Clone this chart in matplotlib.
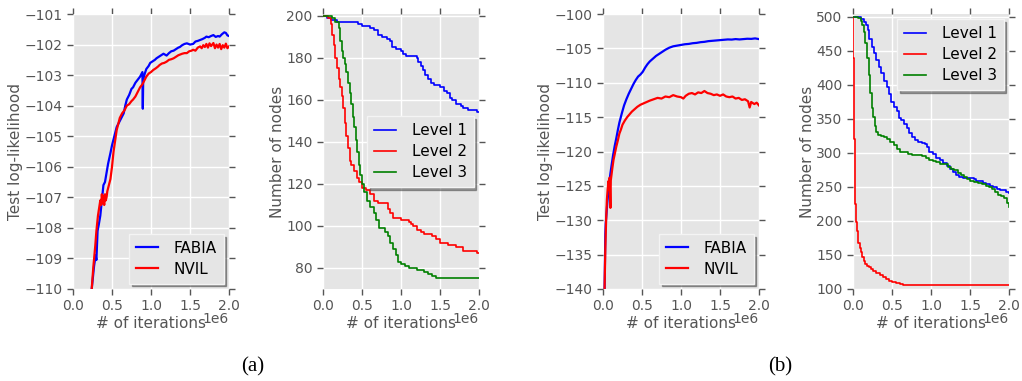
import matplotlib
matplotlib.use("Agg")
import matplotlib.pyplot as plt

# ---- data (x in units of 1e6 iterations) ----
fabia_a_x = [0.24, 0.26, 0.27, 0.29, 0.30, 0.315, 0.33, 0.35, 0.37, 0.39, 0.41, 0.43, 0.45, 0.48, 0.50,
             0.52, 0.54, 0.56, 0.59, 0.62, 0.65, 0.67, 0.69, 0.72, 0.75, 0.77, 0.80, 0.83, 0.86, 0.89,
             0.895, 0.90, 0.92, 0.94, 0.97, 0.99, 1.02, 1.05, 1.07, 1.10, 1.13, 1.16, 1.18, 1.20, 1.23,
             1.26, 1.29, 1.32, 1.35, 1.37, 1.40, 1.43, 1.46, 1.50, 1.54, 1.57, 1.60, 1.63, 1.66, 1.69,
             1.71, 1.74, 1.77, 1.80, 1.83, 1.86, 1.88, 1.91, 1.94, 1.96, 1.98, 2.00]
fabia_a_y = [-110.0, -109.5, -109.25, -108.9, -109.05, -108.1, -107.9, -107.6, -107.1, -106.6, -106.5, -106.2, -105.9, -105.55, -105.3,
             -105.1, -104.9, -104.7, -104.55, -104.4, -104.25, -104.0, -103.8, -103.65, -103.45, -103.4, -103.25, -103.15, -103.05, -102.9,
             -104.1, -103.15, -102.95, -102.8, -102.7, -102.6, -102.55, -102.5, -102.45, -102.4, -102.35, -102.3, -102.33, -102.36, -102.28,
             -102.22, -102.2, -102.15, -102.1, -102.08, -102.02, -101.98, -101.96, -102.0, -101.98, -101.9, -101.88, -101.85, -101.82, -101.78,
             -101.74, -101.76, -101.72, -101.69, -101.75, -101.72, -101.74, -101.66, -101.6, -101.62, -101.7, -101.72]

nvil_a_x = [0.24, 0.26, 0.285, 0.30, 0.32, 0.35, 0.36, 0.37, 0.38, 0.39, 0.40, 0.41, 0.42, 0.43, 0.44, 0.46,
            0.48, 0.50, 0.52, 0.54, 0.56, 0.58, 0.60, 0.63, 0.66, 0.69, 0.72, 0.75, 0.77, 0.80, 0.83,
            0.86, 0.89, 0.92, 0.94, 0.97, 1.00, 1.03, 1.06, 1.09, 1.11, 1.14, 1.17, 1.20, 1.23, 1.26,
            1.29, 1.32, 1.35, 1.37, 1.40, 1.43, 1.46, 1.49, 1.52, 1.54, 1.57, 1.60, 1.63, 1.65, 1.67,
            1.69, 1.71, 1.73, 1.75, 1.77, 1.80, 1.82, 1.84, 1.86, 1.88, 1.90, 1.92, 1.94, 1.96, 1.98, 2.00]
nvil_a_y = [-110.0, -109.3, -108.6, -108.1, -107.6, -107.1, -107.25, -106.9, -107.2, -106.95, -107.25, -106.9, -107.1, -107.0, -106.8, -106.6,
            -106.4, -106.0, -105.5, -105.15, -104.8, -104.6, -104.4, -104.25, -104.15, -104.0, -103.95, -103.85, -103.8, -103.7, -103.55,
            -103.4, -103.3, -103.15, -103.05, -102.95, -102.9, -102.83, -102.78, -102.72, -102.67, -102.62, -102.6, -102.56, -102.5, -102.48,
            -102.45, -102.4, -102.35, -102.33, -102.3, -102.28, -102.28, -102.22, -102.2, -102.17, -102.2, -102.1, -102.06, -102.12, -102.02,
            -102.08, -101.98, -102.1, -101.96, -102.05, -101.95, -102.12, -102.0, -102.1, -101.98, -102.15, -102.02, -102.1, -101.97, -102.12, -102.06]

lvl1_a_x = [0, 0.05, 0.1, 0.18, 0.45, 0.5, 0.6, 0.65, 0.7, 0.75, 0.82, 0.86, 0.88, 0.94, 1.0, 1.03, 1.06,
            1.2, 1.22, 1.25, 1.28, 1.31, 1.34, 1.38, 1.42, 1.5, 1.55, 1.59, 1.63, 1.66, 1.7, 1.77, 1.8,
            1.86, 1.97, 2.0]
lvl1_a_y = [200, 199, 198, 197, 196, 195, 194, 193, 191, 190, 189, 188, 185, 184, 183, 182, 181,
            180, 178, 176, 174, 172, 170, 168, 167, 166, 164, 163, 161, 160, 158, 157, 156,
            155, 154, 154]

lvl2_a_x = [0, 0.07, 0.1, 0.12, 0.14, 0.16, 0.18, 0.2, 0.22, 0.24, 0.26, 0.28, 0.3, 0.32, 0.34, 0.36,
            0.4, 0.43, 0.46, 0.5, 0.55, 0.6, 0.65, 0.7, 0.8, 0.83, 0.86, 0.9, 1.0, 1.1, 1.13, 1.16,
            1.2, 1.25, 1.3, 1.4, 1.45, 1.5, 1.6, 1.7, 1.8, 1.98, 2.0]
lvl2_a_y = [200, 199, 196, 191, 186, 180, 175, 170, 166, 162, 156, 149, 143, 137, 131, 129,
            126, 123, 121, 118, 117, 115, 112, 111, 111, 108, 106, 104, 103, 102, 101, 100,
            98, 97, 96, 95, 94, 92, 91, 90, 88, 87, 87]

lvl3_a_x = [0, 0.12, 0.16, 0.2, 0.22, 0.24, 0.26, 0.28, 0.3, 0.32, 0.34, 0.36, 0.38, 0.4, 0.42,
            0.44, 0.46, 0.48, 0.5, 0.53, 0.56, 0.6, 0.65, 0.68, 0.72, 0.8, 0.83, 0.86, 0.9, 0.93,
            0.96, 1.0, 1.05, 1.1, 1.2, 1.3, 1.35, 1.4, 1.45, 2.0]
lvl3_a_y = [200, 199, 197, 194, 188, 183, 180, 177, 173, 168, 163, 158, 152, 147, 141,
            135, 129, 124, 120, 116, 112, 109, 106, 103, 99, 97, 95, 92, 89, 86,
            83, 82, 81, 80, 79, 78, 77, 76, 75, 75]

fabia_b_x = [0.02, 0.025, 0.03, 0.035, 0.045, 0.055, 0.065, 0.08, 0.095, 0.11, 0.13, 0.15, 0.17, 0.19,
             0.21, 0.24, 0.27, 0.3, 0.33, 0.36, 0.39, 0.42, 0.45, 0.48, 0.51, 0.54, 0.57, 0.6, 0.64,
             0.68, 0.72, 0.76, 0.8, 0.85, 0.9, 0.95, 1.0, 1.05, 1.1, 1.15, 1.2, 1.25, 1.3, 1.35, 1.4,
             1.45, 1.5, 1.55, 1.6, 1.65, 1.7, 1.75, 1.8, 1.85, 1.9, 1.95, 2.0]
fabia_b_y = [-140.0, -136.0, -132.0, -130.5, -129.0, -127.5, -126.3, -124.6, -123.2, -122.0, -120.5, -119.2, -118.1, -116.9,
             -115.8, -114.5, -113.3, -112.4, -111.6, -110.9, -110.2, -109.6, -109.1, -108.8, -108.4, -107.8, -107.3, -106.9, -106.5,
             -106.1, -105.8, -105.5, -105.2, -104.9, -104.7, -104.6, -104.5, -104.4, -104.35, -104.25, -104.2, -104.1, -104.05, -103.95, -103.9,
             -103.85, -103.8, -103.75, -103.7, -103.72, -103.65, -103.7, -103.65, -103.6, -103.62, -103.55, -103.65]

nvil_b_x = [0.02, 0.03, 0.04, 0.05, 0.06, 0.07, 0.08, 0.085, 0.09, 0.095, 0.1, 0.11, 0.12, 0.135, 0.15,
            0.17, 0.19, 0.21, 0.23, 0.25, 0.28, 0.31, 0.34, 0.37, 0.4, 0.44, 0.48, 0.52, 0.56, 0.6,
            0.65, 0.7, 0.75, 0.8, 0.85, 0.9, 0.95, 1.0, 1.03, 1.06, 1.1, 1.14, 1.18, 1.22, 1.26, 1.3,
            1.34, 1.38, 1.42, 1.46, 1.5, 1.54, 1.58, 1.62, 1.66, 1.7, 1.74, 1.78, 1.82, 1.86, 1.88,
            1.9, 1.94, 1.97, 2.0]
nvil_b_y = [-140.0, -134.0, -130.0, -127.0, -125.5, -124.3, -125.5, -123.8, -126.0, -128.2, -124.2, -123.3, -122.4, -121.2, -120.4,
            -119.3, -118.4, -117.4, -116.8, -116.1, -115.5, -115.0, -114.6, -114.2, -113.9, -113.5, -113.2, -113.0, -112.8, -112.6,
            -112.4, -112.2, -112.3, -112.0, -112.1, -111.8, -112.0, -112.1, -112.3, -111.9, -111.6, -111.5, -111.7, -111.4, -111.5, -111.2,
            -111.5, -111.6, -111.8, -111.7, -111.9, -111.7, -112.0, -112.1, -112.0, -112.3, -112.2, -112.5, -112.4, -112.7, -113.6,
            -112.8, -113.1, -112.9, -113.3]

lvl1_b_x = [0, 0.06, 0.1, 0.14, 0.17, 0.19, 0.21, 0.24, 0.27, 0.3, 0.33, 0.36, 0.4, 0.43, 0.46, 0.49,
            0.53, 0.56, 0.59, 0.62, 0.66, 0.69, 0.72, 0.75, 0.79, 0.83, 0.88, 0.92, 0.95, 0.98, 1.02,
            1.07, 1.11, 1.15, 1.2, 1.24, 1.28, 1.32, 1.36, 1.41, 1.5, 1.55, 1.58, 1.63, 1.67, 1.71,
            1.75, 1.8, 1.84, 1.88, 1.92, 1.96, 2.0]
lvl1_b_y = [500, 499, 496, 492, 488, 480, 468, 456, 446, 436, 426, 417, 406, 397, 386, 375,
            368, 361, 351, 348, 343, 336, 329, 324, 319, 316, 315, 313, 308, 302, 298,
            292, 289, 285, 281, 277, 272, 268, 265, 263, 263, 262, 259, 258, 256, 254,
            252, 250, 247, 245, 245, 243, 241]

lvl2_b_x = [0, 0.005, 0.01, 0.015, 0.02, 0.025, 0.03, 0.035, 0.04, 0.05, 0.06, 0.07, 0.085, 0.1,
            0.12, 0.14, 0.16, 0.18, 0.2, 0.23, 0.26, 0.3, 0.34, 0.38, 0.42, 0.46, 0.5, 0.55, 0.6,
            0.64, 2.0]
lvl2_b_y = [500, 440, 380, 320, 275, 245, 225, 210, 198, 185, 176, 168, 160, 154,
            147, 141, 136, 134, 132, 129, 126, 123, 120, 117, 114, 112, 110, 109, 108,
            106, 106]

lvl3_b_x = [0, 0.07, 0.1, 0.12, 0.14, 0.16, 0.18, 0.2, 0.22, 0.24, 0.26, 0.28, 0.3, 0.32, 0.36,
            0.4, 0.44, 0.48, 0.52, 0.56, 0.6, 0.64, 0.7, 0.76, 0.82, 0.88, 0.94, 0.98, 1.03, 1.07,
            1.11, 1.16, 1.22, 1.26, 1.3, 1.34, 1.38, 1.42, 1.46, 1.5, 1.55, 1.6, 1.65, 1.7, 1.74,
            1.78, 1.82, 1.86, 1.9, 1.94, 1.97, 2.0]
lvl3_b_y = [500, 498, 494, 488, 478, 462, 440, 415, 388, 366, 352, 340, 330, 326, 325,
            323, 320, 316, 312, 306, 302, 301, 299, 297, 297, 296, 293, 289, 288, 286,
            284, 283, 279, 277, 275, 270, 267, 264, 261, 259, 257, 255, 254, 252, 250,
            247, 242, 238, 236, 233, 226, 221]

GRAY = '#555555'


def scale(xs):
    return [v * 1e6 for v in xs]


def style_axes(ax, ylabel):
    ax.set_facecolor('#E5E5E5')
    for s in ax.spines.values():
        s.set_visible(False)
    ax.grid(True, color='white', linewidth=1.0)
    ax.set_axisbelow(True)
    ax.tick_params(direction='out', length=4, width=1, color=GRAY, labelcolor=GRAY,
                   labelsize=10, top=True, right=True)
    ax.set_xlim(0, 2e6)
    ax.set_xticks([0, 0.5e6, 1.0e6, 1.5e6, 2.0e6])
    ax.ticklabel_format(axis='x', style='sci', scilimits=(0, 0))
    # offset text drawn by hand so it sits next to the x label like the old style did
    ax.xaxis.get_offset_text().set_visible(False)
    ax.text(1.0, -0.124, '1e6', transform=ax.transAxes, ha='right', va='baseline',
            color=GRAY, fontsize=10)
    ax.set_xlabel('# of iterations', color=GRAY, fontsize=11, labelpad=2)
    ax.set_ylabel(ylabel, color=GRAY, fontsize=11, labelpad=1)


def add_legend(ax, loc):
    leg = ax.legend(loc=loc, fontsize=11, shadow=True, fancybox=False,
                    handlelength=1.4, handletextpad=1.05, borderpad=0.45,
                    labelspacing=0.4, borderaxespad=0.35)
    frame = leg.get_frame()
    frame.set_facecolor('#E5E5E5')
    frame.set_edgecolor('#f4f4f4')
    frame.set_alpha(1.0)


fig = plt.figure(figsize=(10.22, 3.81), dpi=100)
W, H = 1022, 381
rects = [(73, 14, 156, 275), (323, 14, 156, 275), (603, 14, 156, 275), (853, 14, 156, 275)]
axes = [fig.add_axes([l / W, 1 - (t + h) / H, w / W, h / H]) for l, t, w, h in rects]
ax1, ax2, ax3, ax4 = axes

# (a) left: log-likelihood
ax1.plot(scale(fabia_a_x), fabia_a_y, color='blue', lw=1.6, label='FABIA')
ax1.plot(scale(nvil_a_x), nvil_a_y, color='red', lw=1.6, label='NVIL')
style_axes(ax1, 'Test log-likelihood')
ax1.set_ylim(-110, -101)
ax1.set_yticks(range(-110, -100))
add_legend(ax1, 'lower right')

# (a) right: number of nodes
ax2.plot(scale(lvl1_a_x), lvl1_a_y, color='blue', lw=1.2, drawstyle='steps-post', label='Level 1')
ax2.plot(scale(lvl2_a_x), lvl2_a_y, color='red', lw=1.2, drawstyle='steps-post', label='Level 2')
ax2.plot(scale(lvl3_a_x), lvl3_a_y, color='green', lw=1.2, drawstyle='steps-post', label='Level 3')
style_axes(ax2, 'Number of nodes')
ax2.set_ylim(70, 200.8)
ax2.set_yticks(range(80, 201, 20))
add_legend(ax2, 'center right')

# (b) left: log-likelihood
ax3.plot(scale(fabia_b_x), fabia_b_y, color='blue', lw=1.6, label='FABIA')
ax3.plot(scale(nvil_b_x), nvil_b_y, color='red', lw=1.6, label='NVIL')
style_axes(ax3, 'Test log-likelihood')
ax3.set_ylim(-140, -100)
ax3.set_yticks(range(-140, -99, 5))
add_legend(ax3, 'lower right')

# (b) right: number of nodes
ax4.plot(scale(lvl1_b_x), lvl1_b_y, color='blue', lw=1.2, drawstyle='steps-post', label='Level 1')
ax4.plot(scale(lvl2_b_x), lvl2_b_y, color='red', lw=1.2, drawstyle='steps-post', label='Level 2')
ax4.plot(scale(lvl3_b_x), lvl3_b_y, color='green', lw=1.2, drawstyle='steps-post', label='Level 3')
style_axes(ax4, 'Number of nodes')
ax4.set_ylim(100, 504)
ax4.set_yticks(range(100, 501, 50))
add_legend(ax4, 'upper right')

fig.text(253 / W, 1 - 367 / H, '(a)', ha='center', va='center', fontsize=15, family='Liberation Serif')
fig.text(780 / W, 1 - 367 / H, '(b)', ha='center', va='center', fontsize=15, family='Liberation Serif')

fig.savefig('out.png', dpi=100)
